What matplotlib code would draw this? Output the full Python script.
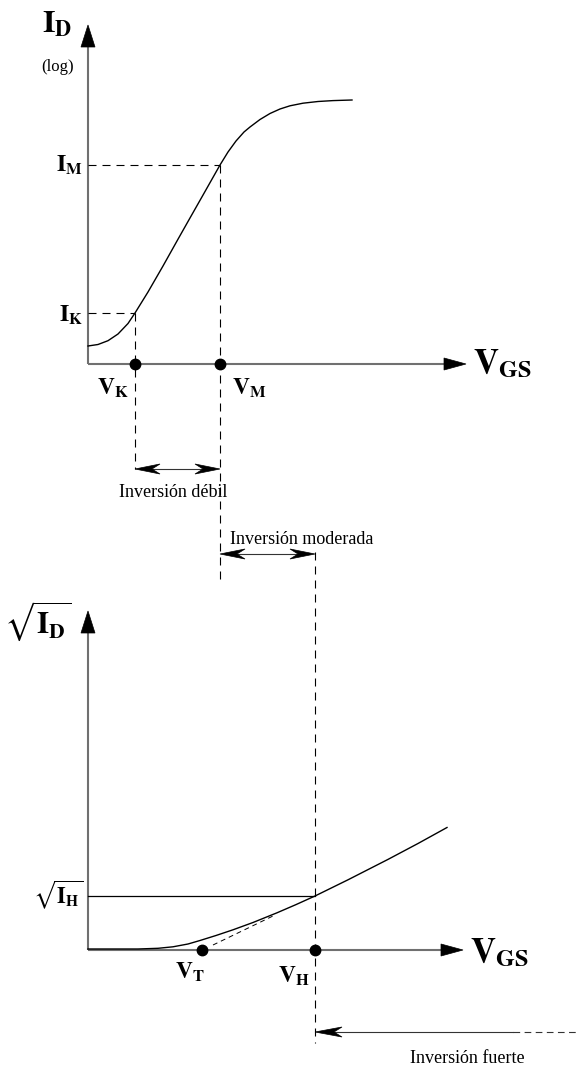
import matplotlib.pyplot as plt
from matplotlib.patches import Polygon

plt.rcParams['mathtext.fontset'] = 'stix'
plt.rcParams['font.family'] = 'Liberation Serif'

# upper sketch: log(I_D) against V_GS (units from the origin of the axes)
log_vgs = [0, 10, 20, 30, 40, 47, 60, 75, 90, 100, 116, 132,
           140, 148, 156, 162, 172, 182, 192, 202, 215, 230, 245, 264]
log_id = [18, 19.5, 23.3, 30, 40.5, 51, 72, 98, 124.8, 142.5, 170.7, 199,
          212, 223, 232, 237, 244.5, 250.5, 255, 258.2, 260.8, 262.5, 263.4, 264]
v_k, v_m = 47, 132
i_k, i_m = 51, 199

# lower sketch: sqrt(I_D) against V_GS
sq_vgs = [0, 50, 70, 85, 100, 112, 128, 145, 165, 189, 208, 227, 260, 300, 330, 359]
sq_id = [1, 1, 1.7, 3.2, 6, 9.5, 14.5, 20.2, 27.5, 37.2, 45.4, 54, 70.2, 90.6, 106.5, 122.5]
v_t, v_h = 114, 227
sqrt_i_h = 54
tangent_vgs = [125, 185]
tangent_id = [5, 34]

AXIS = '#707070'
DASH = dict(color='black', lw=0.8, dashes=(7.2, 5.4))


def head(ax, tip, d, length, half, notch=0.0, color='black'):
    tx, ty = tip
    dx, dy = d
    bx, by = tx - dx * length, ty - dy * length
    px, py = -dy, dx
    pts = [(tx, ty), (bx + px * half, by + py * half),
           (bx + dx * notch, by + dy * notch), (bx - px * half, by - py * half)]
    ax.add_patch(Polygon(pts, closed=True, fc=color, ec=color, lw=0.5, zorder=5))


def axes_arrows(ax, x_tip, y_tip):
    ax.plot([0, 0], [0, y_tip - 20], color=AXIS, lw=1.5, solid_capstyle='butt')
    ax.plot([0, x_tip - 20], [0, 0], color=AXIS, lw=1.5, solid_capstyle='butt')
    head(ax, (0, y_tip), (0, 1), 22, 7)
    head(ax, (x_tip, 0), (1, 0), 22, 6)


def double_arrow(ax, x1, x2, y):
    ax.plot([x1 + 15, x2 - 15], [y, y], color='#333333', lw=0.8)
    head(ax, (x1, y), (-1, 0), 25, 5, notch=8)
    head(ax, (x2, y), (1, 0), 25, 5, notch=8)


fig = plt.figure(figsize=(5.77, 10.7), dpi=100)
ax_top = fig.add_axes([0, 0, 1, 1])
ax_bot = fig.add_axes([0, 0, 1, 1])
ax_top.set_xlim(-88, 489)
ax_top.set_ylim(-706, 364)
ax_bot.set_xlim(-88, 489)
ax_bot.set_ylim(-120, 950)
for ax in (ax_top, ax_bot):
    ax.axis('off')
ax_bot.patch.set_visible(False)

# ---- log(I_D) sketch
ax = ax_top
axes_arrows(ax, 378, 339)
ax.plot(log_vgs, log_id, color='black', lw=1.0)
ax.plot([0, v_k], [i_k, i_k], **DASH)
ax.plot([0, v_m], [i_m, i_m], **DASH)
ax.plot([v_k, v_k], [i_k, -105], **DASH)
ax.plot([v_m, v_m], [i_m, -216], **DASH)
ax.plot([v_k, v_m], [0, 0], 'o', color='black', ms=7.5, zorder=6)

ax.text(-46, 331, r'$\mathbf{I}_\mathbf{D}$', fontsize=23, va='baseline')
ax.text(-47, 297, '(log)', fontsize=12, va='center')
ax.text(-5, 192, r'$\mathbf{I}_\mathbf{M}$', fontsize=17, ha='right', va='baseline')
ax.text(-5, 42, r'$\mathbf{I}_\mathbf{K}$', fontsize=17, ha='right', va='baseline')
ax.text(9, -31, r'$\mathbf{V}_\mathbf{K}$', fontsize=17, va='baseline')
ax.text(144, -31, r'$\mathbf{V}_\mathbf{M}$', fontsize=17, va='baseline')
ax.text(385, -9, r'$\mathbf{V}_\mathbf{GS}$', fontsize=25, va='baseline')

double_arrow(ax, v_k, v_m, -105)
ax.text((v_k + v_m) / 2 - 4, -133, 'Inversión débil', fontsize=13, ha='center', va='baseline')
double_arrow(ax, v_m, v_h, -190)
ax.text(v_m + 10, -180, 'Inversión moderada', fontsize=13, va='baseline')

# ---- sqrt(I_D) sketch
ax = ax_bot
axes_arrows(ax, 375, 339)
ax.plot(sq_vgs, sq_id, color='black', lw=1.0)
ax.plot([0, v_h], [sqrt_i_h, sqrt_i_h], color='black', lw=0.9)
ax.plot(tangent_vgs, tangent_id, color='black', lw=0.7, dashes=(5, 4))
ax.plot([v_h, v_h], [398, -93], **DASH)
ax.plot([v_t, v_h], [0, 0], 'o', color='black', ms=7.5, zorder=6)

ax.text(-84, 317, r'$\sqrt{\mathbf{I}_\mathbf{D}}$', fontsize=22, va='baseline')
ax.text(-5, 47, r'$\sqrt{\mathbf{I}_\mathbf{H}}$', fontsize=16, ha='right', va='baseline')
ax.text(87, -29, r'$\mathbf{V}_\mathbf{T}$', fontsize=17, va='baseline')
ax.text(190, -33, r'$\mathbf{V}_\mathbf{H}$', fontsize=17, va='baseline')
ax.text(382, -12, r'$\mathbf{V}_\mathbf{GS}$', fontsize=25, va='baseline')

# strong inversion: open-ended arrow towards V_H
ax.plot([v_h + 15, 425], [-82, -82], color='#333333', lw=0.8)
ax.plot([425, 489], [-82, -82], color='#333333', lw=0.8, dashes=(6, 4))
head(ax, (v_h, -82), (-1, 0), 27, 5, notch=8)
ax.text(322, -113, 'Inversión fuerte', fontsize=13, va='baseline')

fig.savefig('out.png', dpi=100)
